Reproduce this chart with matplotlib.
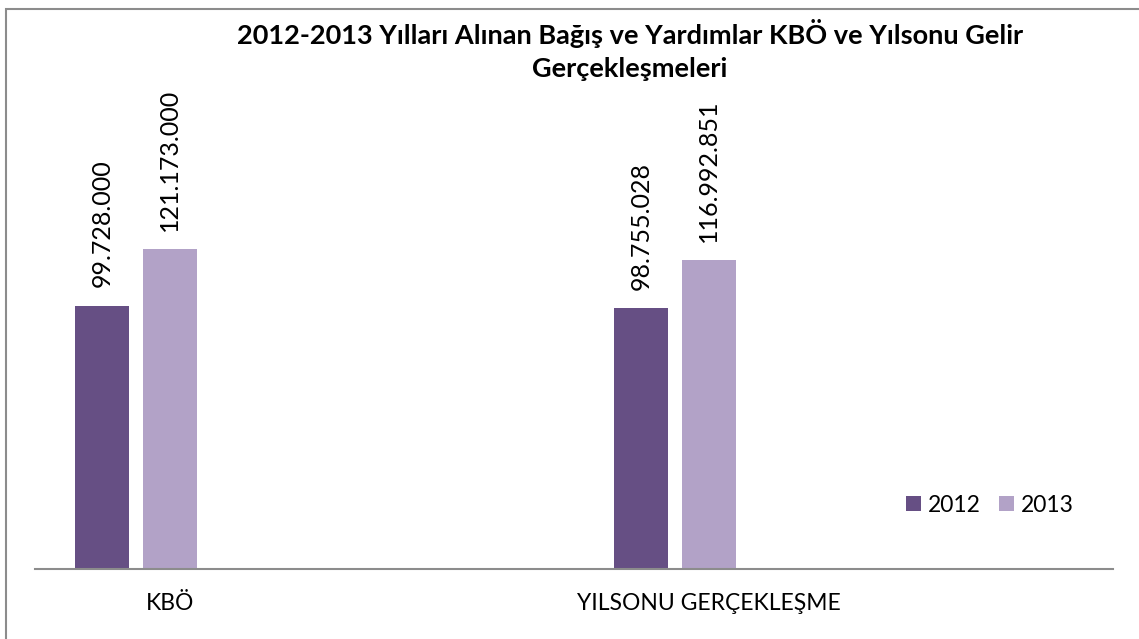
import matplotlib.pyplot as plt
from matplotlib.patches import Rectangle, Patch

# data
categories = ['KBÖ', 'YILSONU GERÇEKLEŞME']
years = ['2012', '2013']
values_2012 = [99728000, 98755028]
values_2013 = [121173000, 116992851]
colors = ['#664F84', '#B2A2C7']

W, H = 1139, 639
fig = plt.figure(figsize=(W / 100, H / 100), dpi=100)
plt.rcParams['font.family'] = ['Lato', 'DejaVu Sans']

# outer border (cropped on right/bottom)
fig.patches.append(Rectangle((6 / W, -0.1), 1.2, (H - 9) / H + 0.1,
                             transform=fig.transFigure, fill=False,
                             edgecolor='#8C8C8C', linewidth=1.5))

ax = fig.add_axes([35 / W, (H - 569) / H, (1113 - 35) / W, 369.3 / H])
ax.set_xlim(-0.25, 1.75)
ax.set_ylim(0, 140)

def fmt(v):
    return f'{v:,}'.replace(',', '.')

offsets = [-0.125, 0.0]
width = 0.1
for series, off, col in zip([values_2012, values_2013], offsets, colors):
    xs = [i + off for i in range(len(categories))]
    ax.bar(xs, [v / 1e6 for v in series], width=width, color=col)
    for x, v in zip(xs, series):
        ax.annotate(fmt(v), (x, v / 1e6), xytext=(0, 13.5), textcoords='offset points',
                    rotation=90, ha='center', va='bottom', fontsize=18)

for s in ['top', 'left', 'right']:
    ax.spines[s].set_visible(False)
ax.spines['bottom'].set_color('#8C8C8C')
ax.spines['bottom'].set_linewidth(1.5)
ax.set_yticks([])
ax.set_xticks([])
for i, c in enumerate(categories):
    ax.text(i, -34 / 369.3, c, transform=ax.get_xaxis_transform(),
            ha='center', va='center', fontsize=16.5)

fig.text(630 / W, 1 - 34 / H, '2012-2013 Yılları Alınan Bağış ve Yardımlar KBÖ ve Yılsonu Gelir',
         ha='center', va='center', fontsize=19.5, fontweight='bold')
fig.text(630 / W, 1 - 69 / H, 'Gerçekleşmeleri',
         ha='center', va='center', fontsize=19.5, fontweight='bold')

handles = [Patch(facecolor=c, edgecolor='none') for c in colors]
fig.legend(handles, years, loc='center left', bbox_to_anchor=(895 / W, 1 - 505 / H),
           frameon=False, fontsize=16.5, handlelength=0.65, handleheight=0.65,
           handletextpad=0.3, columnspacing=0.8, ncol=2, borderpad=0)

fig.savefig('out.png', dpi=100)
